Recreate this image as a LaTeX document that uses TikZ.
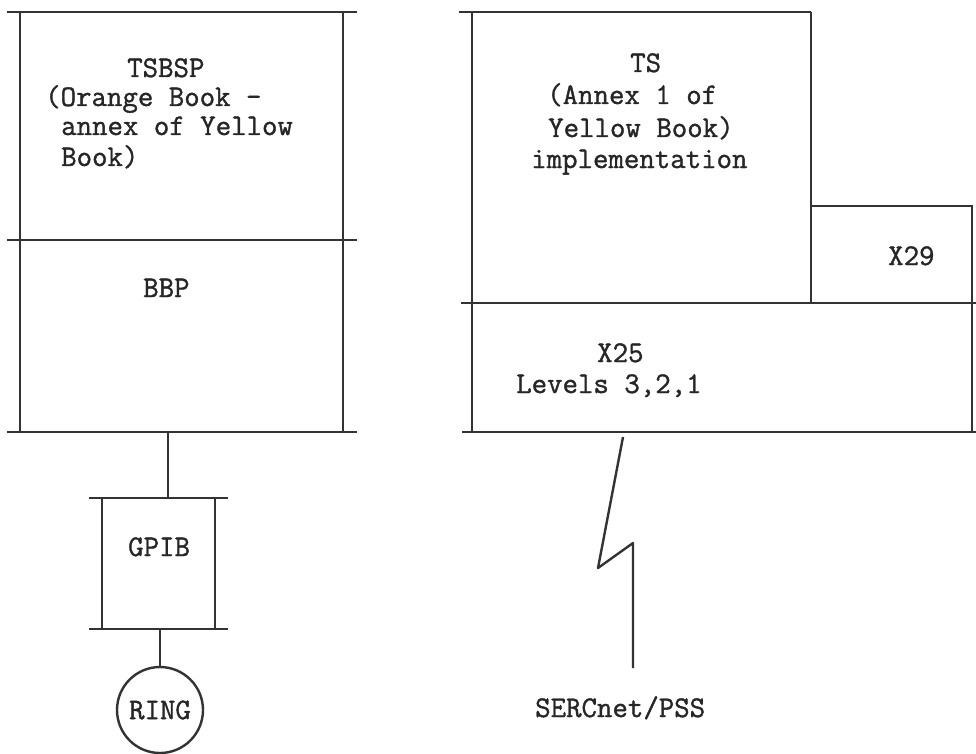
\documentclass[tikz,border=0pt]{standalone}
\usepackage{fontspec}
\setmonofont{Latin Modern Mono}[FakeBold=1.2]
\begin{document}
\begin{tikzpicture}[x=1pt,y=-1pt,
  ink/.style={draw=black!80},
  hline/.style={ink,line width=2.6pt},
  vline/.style={ink,line width=2.2pt},
  wire/.style={ink,line width=2.4pt},
  txt/.style={anchor=base west,inner sep=0pt,text=black!85,font=\fontsize{30}{32}\selectfont\ttfamily}]
\useasboundingbox (0,0) rectangle (976,754);
% ---------- left stack ----------
\draw[hline] (7,12) -- (357,12);
\draw[hline] (7,240) -- (357,240);
\draw[hline] (7,432) -- (357,432);
\draw[vline] (20,12) -- (20,432);
\draw[vline] (343,12) -- (343,432);
\node[txt] (tsbsp1) at (127,77) {TSBSP};
\node[txt] (tsbsp2) at (45,106) {(Orange Book -};
\node[txt] (tsbsp3) at (61,135) {annex of Yellow};
\node[txt] (tsbsp4) at (61,166) {Book)};
\node[txt] (bbp) at (143,297) {BBP};
% GPIB box
\draw[hline] (89,498) -- (228,498);
\draw[hline] (89,629) -- (228,629);
\draw[vline] (102,498) -- (102,629);
\draw[vline] (215,498) -- (215,629);
\node[txt] (gpib) at (128,556) {GPIB};
% connectors
\coordinate (bbpbot) at (168,432);
\coordinate (gpibtop) at (168,498);
\coordinate (gpibbot) at (160,629);
\draw[wire] (bbpbot) -- (gpibtop);
\node[circle,ink,line width=2.4pt,minimum size=86pt,inner sep=0pt,
      text=black!85,font=\fontsize{30}{32}\selectfont\ttfamily] (ring) at (160,710) {RING};
\draw[wire] (gpibbot) -- (ring.north);
% ---------- right stack ----------
\draw[hline] (459,12) -- (811,12);
\draw[vline] (472,12) -- (472,433);
\draw[vline] (811,12) -- (811,303);
\draw[hline] (811,206) -- (973,206);
\draw[vline] (972,206) -- (972,432);
\draw[hline] (461,303) -- (976,303);
\draw[hline] (462,432) -- (976,432);
\node[txt] (ts1) at (630,72) {TS};
\node[txt] (ts2) at (547,104) {(Annex 1 of};
\node[txt] (ts3) at (548,137) {Yellow Book)};
\node[txt] (ts4) at (531,168) {implementation};
\node[txt] (x29) at (888,265) {X29};
\node[txt] (x25a) at (597,362) {X25};
\node[txt] (x25b) at (516,393) {Levels 3,2,1};
% lightning link
\coordinate (x25bot) at (623,437);
\coordinate (z1) at (598,568);
\coordinate (z2) at (633,543);
\coordinate (linkend) at (633,668);
\draw[wire,line join=round] (x25bot) -- (z1) -- (z2) -- (linkend);
\node[txt] (serc) at (535,717) {SERCnet/PSS};
\end{tikzpicture}
\end{document}
